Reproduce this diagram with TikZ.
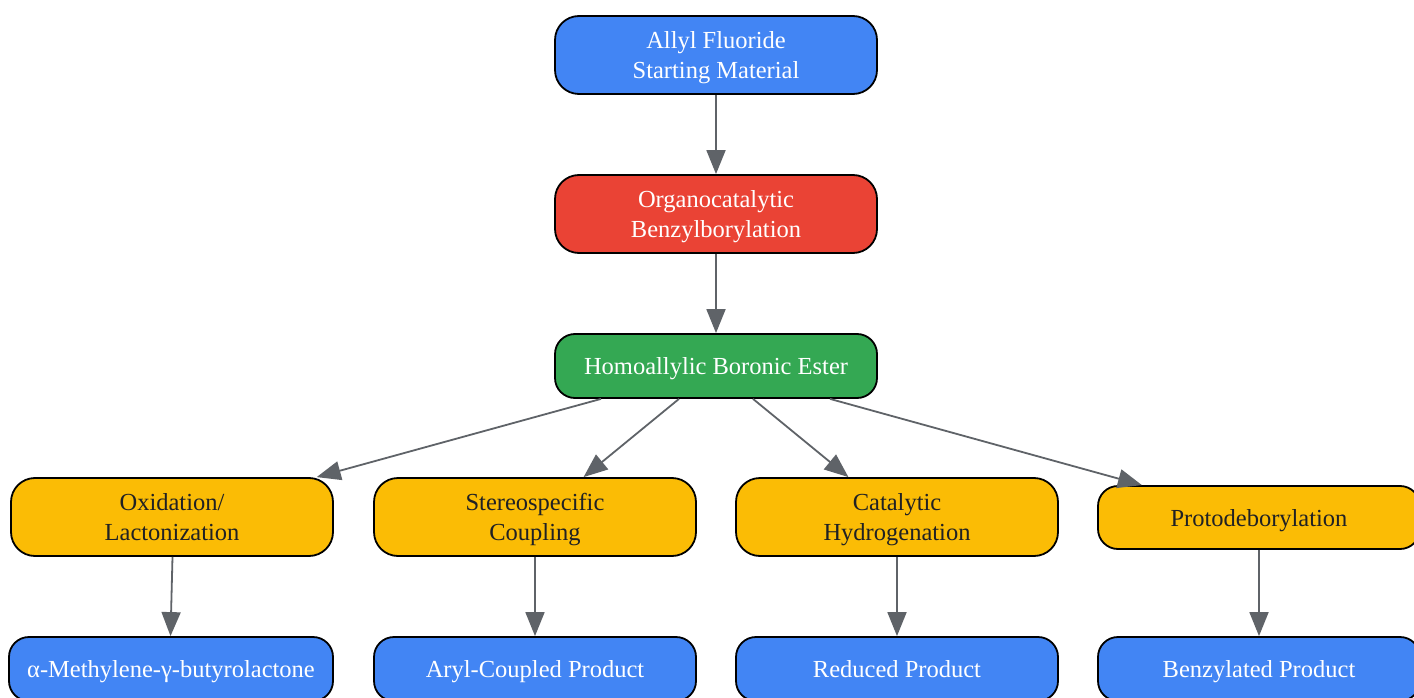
\documentclass[tikz,border=0pt]{standalone}
\usepackage{fontspec}
\setmainfont{Liberation Serif}
\usetikzlibrary{arrows.meta}
\definecolor{gblue}{HTML}{4285F4}
\definecolor{gred}{HTML}{EA4335}
\definecolor{ggreen}{HTML}{34A853}
\definecolor{gyellow}{HTML}{FBBC05}
\definecolor{gtext}{HTML}{202124}
\definecolor{gedge}{HTML}{5F6368}
\newcommand\mystrut{\rule[-6.5pt]{0pt}{30pt}}
\tikzset{
  box/.style={draw=black, line width=1.8pt, rounded corners=24pt, minimum width=322pt, minimum height=78pt, inner sep=0pt, align=center, font=\fontsize{24.5}{30}\selectfont},
  lightbox/.style={box, text=white},
  yelbox/.style={box, fill=gyellow, text=gtext},
  conn/.style={draw=gedge, line width=1.8pt, -{Triangle[length=24pt,width=19pt]}},
}
\begin{document}
\begin{tikzpicture}[x=1pt,y=-1pt]
\useasboundingbox (0,0) rectangle (1414,698);
\clip (0,0) rectangle (1414,698);
\node[lightbox, fill=gblue] (allyl) at (716,55) {\mystrut Allyl Fluoride\\Starting Material\mystrut};
\node[lightbox, fill=gred] (orga) at (716,214) {\mystrut Organocatalytic\\Benzylborylation\mystrut};
\node[lightbox, fill=ggreen, minimum height=64pt, rounded corners=20pt] (homo) at (716,366) {\mystrut Homoallylic Boronic Ester};
\node[yelbox] (oxid) at (172,517) {\mystrut Oxidation/\\Lactonization\mystrut};
\node[yelbox] (ster) at (535,517) {\mystrut Stereospecific\\Coupling\mystrut};
\node[yelbox] (cata) at (897,517) {\mystrut Catalytic\\Hydrogenation\mystrut};
\node[yelbox, minimum height=63pt, rounded corners=20pt] (prot) at (1259,517.5) {\mystrut Protodeborylation};
\node[lightbox, fill=gblue, minimum height=64pt, minimum width=324pt, rounded corners=20pt] (meth) at (171,669) {\mystrut α-Methylene-γ-butyrolactone};
\node[lightbox, fill=gblue, minimum height=64pt, rounded corners=20pt] (aryl) at (535,669) {\mystrut Aryl-Coupled Product};
\node[lightbox, fill=gblue, minimum height=64pt, rounded corners=20pt] (redu) at (897,669) {\mystrut Reduced Product};
\node[lightbox, fill=gblue, minimum height=64pt, rounded corners=20pt] (benz) at (1259,669) {\mystrut Benzylated Product};
\draw[conn] (allyl) -- (orga);
\draw[conn] (orga) -- (homo);
\draw[conn] ([xshift=-115pt]homo.south) -- (oxid);
\draw[conn] ([xshift=-37pt]homo.south) -- (ster);
\draw[conn] ([xshift=37pt]homo.south) -- (cata);
\draw[conn] ([xshift=114pt]homo.south) -- (prot);
\draw[conn] ([xshift=0.5pt]oxid.south) -- ([xshift=-0.5pt]meth.north);
\draw[conn] (ster) -- (aryl);
\draw[conn] (cata) -- (redu);
\draw[conn] (prot) -- (benz);
\end{tikzpicture}
\end{document}
